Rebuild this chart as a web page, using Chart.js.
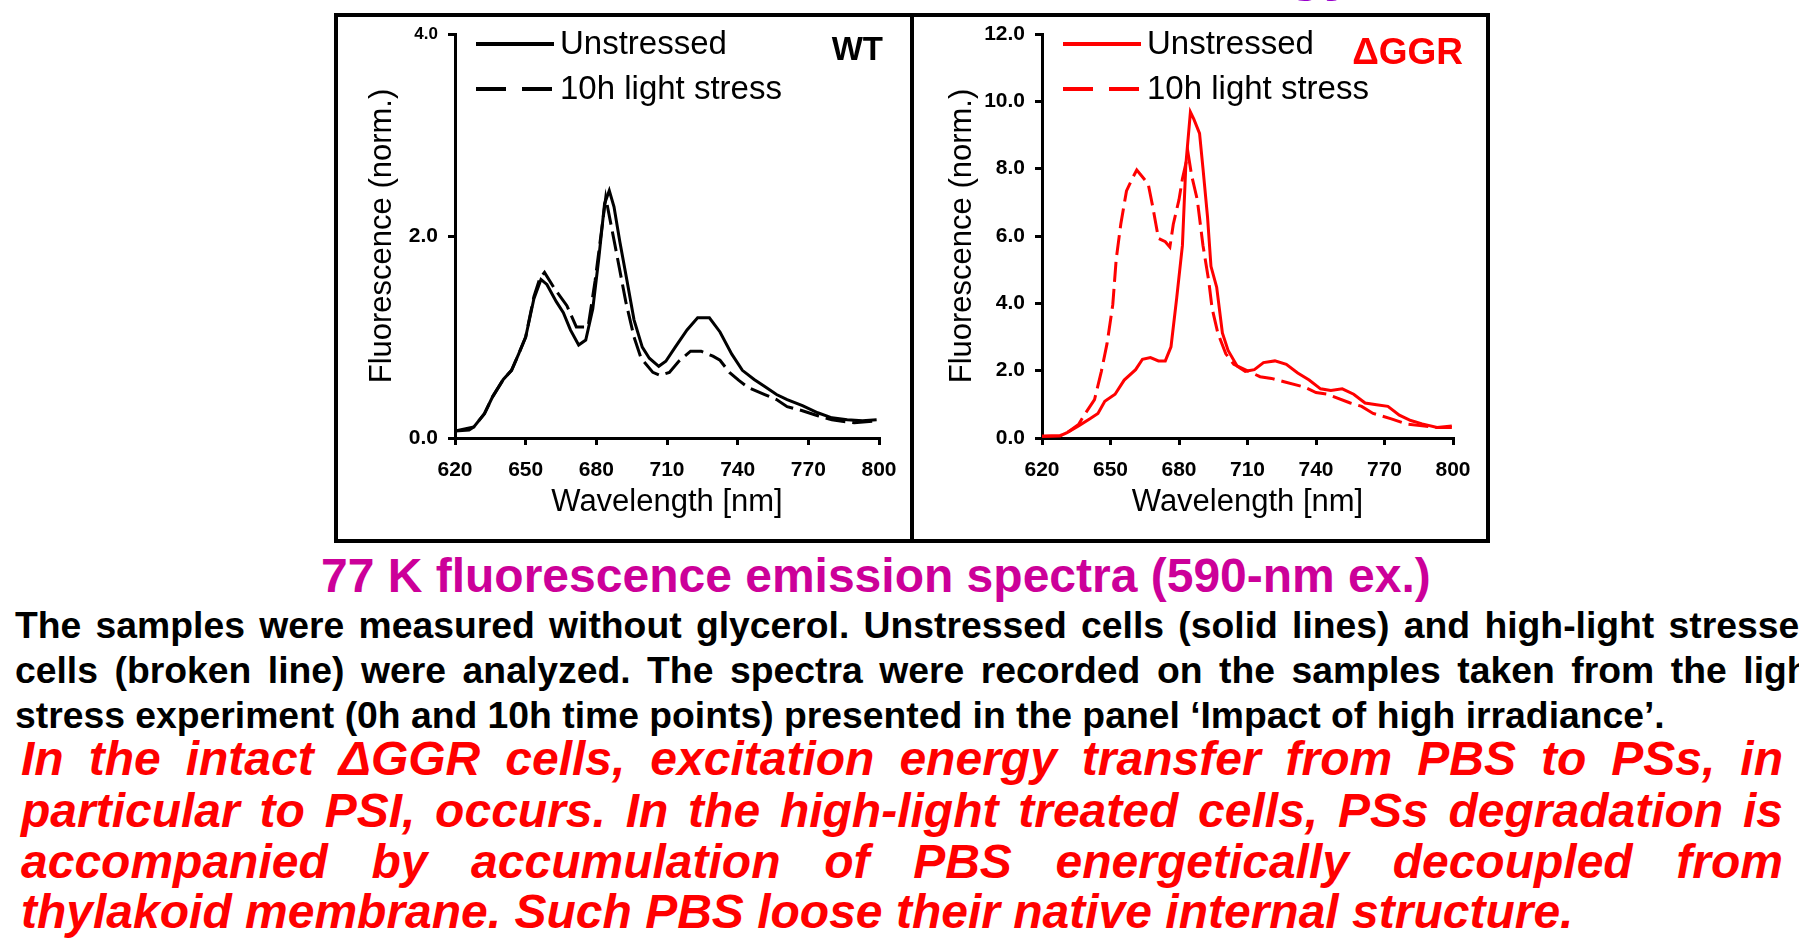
<!DOCTYPE html>
<html>
<head>
<meta charset="utf-8">
<title>77 K fluorescence emission spectra</title>
<script src="https://cdn.jsdelivr.net/npm/chart.js@4.4.1/dist/chart.umd.min.js"></script>
<style>
  html, body { margin: 0; padding: 0; background: #fff; }
  body { width: 1799px; height: 938px; overflow: hidden; position: relative;
         font-family: 'Liberation Sans', Arial, sans-serif; }
  .box { position: absolute; top: 13px; width: 572px; height: 522px; border: 4px solid #000; }
  canvas { position: absolute; top: 17px; }
  .line { position: absolute; white-space: normal; }
  .cap { left: 321px; top: 548px; font-weight: bold; font-size: 48px; line-height: 56px;
         color: #CC0099; white-space: nowrap; }
  .blk { left: 15px; font-weight: bold; font-size: 37.3px; line-height: 45px; color: #000; }
  .red { left: 21px; font-weight: bold; font-style: italic; font-size: 48px; line-height: 51px; color: #FF0000; }
  .just { text-align: justify; text-align-last: justify; }
  .top { left: 1287px; top: -61px; font-weight: bold; font-size: 60px; line-height: 60px; color: #9900CC; }
</style>
</head>
<body>
<div class="line top">gy</div>
<div class="box" style="left:334px"></div>
<div class="box" style="left:910px"></div>
<canvas id="wt" width="572" height="522" style="left:338px"></canvas>
<canvas id="ggr" width="572" height="522" style="left:914px"></canvas>

<div class="line cap">77 K fluorescence emission spectra (590-nm ex.)</div>
<div class="line blk just" style="top:603px;width:1807px">The samples were measured without glycerol. Unstressed cells (solid lines) and high-light stressed</div>
<div class="line blk just" style="top:648px;width:1807px">cells (broken line) were analyzed. The spectra were recorded on the samples taken from the light</div>
<div class="line blk" style="top:693px;white-space:nowrap">stress experiment (0h and 10h time points) presented in the panel ‘Impact of high irradiance’.</div>
<div class="line red just" style="top:733px;width:1762px">In the intact ΔGGR cells, excitation energy transfer from PBS to PSs, in</div>
<div class="line red just" style="top:785px;width:1762px">particular to PSI, occurs. In the high-light treated cells, PSs degradation is</div>
<div class="line red just" style="top:836px;width:1762px">accompanied by accumulation of PBS energetically decoupled from</div>
<div class="line red" style="top:886px;white-space:nowrap">thylakoid membrane. Such PBS loose their native internal structure.</div>

<script>
// tick values
const xTicks = [620, 650, 680, 710, 740, 770, 800];
const wtYTicks = [0, 2, 4];
const ggrYTicks = [0, 2, 4, 6, 8, 10, 12];

// WT, unstressed (solid)
const wtUnNm = [620, 626, 628, 632.5, 636, 640.5, 644, 647, 650, 653.5, 656.5, 659, 663, 666, 669, 672.5,
  675.5, 678.5, 681, 683.5, 685.5, 687.5, 690, 693, 696, 699.5, 702.5, 706.5, 709.5, 713.5, 718.5, 723,
  728, 732.5, 737.5, 742, 747, 751.5, 756.5, 761, 767.5, 774, 780, 786.5, 793, 799];
const wtUnVal = [0.07, 0.08, 0.11, 0.24, 0.41, 0.58, 0.67, 0.83, 1.00, 1.38, 1.57, 1.52, 1.35, 1.24, 1.07, 0.92,
  0.97, 1.28, 1.77, 2.32, 2.45, 2.29, 1.94, 1.56, 1.17, 0.90, 0.79, 0.71, 0.76, 0.90, 1.07, 1.19,
  1.19, 1.05, 0.83, 0.67, 0.58, 0.51, 0.43, 0.38, 0.32, 0.25, 0.20, 0.18, 0.17, 0.18];

// WT, 10h light stress (broken)
const wtLsNm = [620, 628, 632.5, 636, 640.5, 644, 647, 650, 653.5, 656, 658, 662.5, 667.5, 671.5, 676.5,
  679.5, 684, 688, 692.5, 696, 699, 704, 707, 711, 715, 720, 724.5, 729.5, 732.5, 736.5, 740.5, 744.5,
  751.5, 756.5, 761, 767.5, 774, 780, 789.5, 799];
const wtLsVal = [0.07, 0.11, 0.24, 0.41, 0.58, 0.67, 0.83, 1.00, 1.40, 1.58, 1.64, 1.47, 1.31, 1.10, 1.10,
  1.56, 2.38, 1.90, 1.35, 1.00, 0.79, 0.65, 0.62, 0.65, 0.76, 0.86, 0.86, 0.81, 0.77, 0.65, 0.57, 0.50,
  0.43, 0.38, 0.31, 0.27, 0.22, 0.18, 0.15, 0.17];

// ΔGGR, unstressed (solid)
const ggrUnNm = [620, 628, 631, 636, 641, 644.5, 647.5, 652, 656, 661, 664, 667.5, 671, 674, 676.5, 679,
  681.5, 683, 685, 686.5, 689, 690.5, 692.5, 694, 696.5, 699, 701.5, 705.5, 709, 713, 717, 722, 727,
  732, 737, 742, 746.5, 751.5, 756.5, 761.5, 766.5, 771.5, 776.5, 781.5, 786.5, 793, 799.5];
const ggrUnVal = [0.05, 0.07, 0.16, 0.36, 0.57, 0.73, 1.09, 1.30, 1.72, 2.03, 2.34, 2.39, 2.29, 2.29, 2.71, 4.16,
  5.72, 8.12, 9.68, 9.47, 9.05, 8.01, 6.56, 5.10, 4.48, 3.12, 2.60, 2.13, 1.98, 2.03, 2.24, 2.29, 2.19,
  1.93, 1.72, 1.46, 1.41, 1.46, 1.30, 1.04, 0.99, 0.94, 0.68, 0.52, 0.42, 0.31, 0.36];

// ΔGGR, 10h light stress (broken)
const ggrLsNm = [620, 628, 631, 636, 638.5, 643, 646, 648.5, 651, 652.5, 654.5, 657, 659.5, 661.5, 666.5,
  668.5, 671, 674, 676, 677.5, 680, 681.5, 684, 685.5, 688, 690.5, 693, 694.5, 697, 700.5, 704, 710.5,
  715.5, 720.5, 726, 735, 740, 745, 755, 760, 765, 773, 779.5, 786.5, 793, 799.5];
const ggrLsVal = [0.05, 0.07, 0.16, 0.40, 0.68, 1.14, 1.98, 2.81, 3.96, 5.31, 6.35, 7.34, 7.70, 7.96, 7.55,
  6.87, 5.93, 5.83, 5.67, 6.35, 7.08, 7.70, 8.45, 7.81, 7.08, 5.72, 4.68, 3.85, 3.12, 2.50, 2.19, 1.98,
  1.82, 1.77, 1.67, 1.51, 1.35, 1.30, 1.04, 0.94, 0.73, 0.57, 0.42, 0.36, 0.31, 0.31];

Chart.defaults.font.family = "'Liberation Sans', Arial, sans-serif";
Chart.defaults.color = '#000';

function pts(nm, val) {
  return nm.map((x, i) => ({ x: x, y: val[i] }));
}

// legend and panel name drawn inside the plot area
const insideLegend = {
  id: 'insideLegend',
  afterDraw(chart, args, opts) {
    const { ctx, chartArea } = chart;
    ctx.save();
    chart.data.datasets.forEach((ds, i) => {
      const y = chartArea.top + opts.rowY[i];
      const x0 = chartArea.left + 21;
      ctx.strokeStyle = ds.borderColor;
      ctx.lineWidth = 4;
      ctx.setLineDash(ds.borderDash.length ? [30, 16] : []);
      ctx.beginPath();
      ctx.moveTo(x0, y);
      ctx.lineTo(x0 + 78, y);
      ctx.stroke();
      ctx.setLineDash([]);
      ctx.fillStyle = '#000';
      ctx.font = "33px 'Liberation Sans', Arial, sans-serif";
      ctx.textBaseline = 'middle';
      ctx.textAlign = 'left';
      ctx.fillText(ds.label, x0 + 84, y + 1);
    });
    ctx.font = 'bold ' + opts.panelSize + "px 'Liberation Sans', Arial, sans-serif";
    ctx.fillStyle = opts.panelColor;
    ctx.textAlign = 'right';
    ctx.textBaseline = 'middle';
    ctx.fillText(opts.panel, chartArea.right + opts.panelDx, chartArea.top + opts.panelDy);
    ctx.restore();
  }
};

function makeChart(id, color, series, yMax, yTicks, yWidth, yTitlePad, rightPad, panel) {
  const ctx = document.getElementById(id).getContext('2d');
  return new Chart(ctx, {
    type: 'line',
    data: {
      datasets: [{
        label: 'Unstressed',
        data: series[0],
        borderColor: color,
        borderWidth: 3,
        borderDash: [],
        pointRadius: 0,
        tension: 0
      }, {
        label: '10h light stress',
        data: series[1],
        borderColor: color,
        borderWidth: 3,
        borderDash: [20, 7],
        pointRadius: 0,
        tension: 0
      }]
    },
    options: {
      responsive: false,
      animation: false,
      layout: { padding: { left: 0, top: 17, right: rightPad, bottom: 0 } },
      plugins: {
        legend: { display: false },
        tooltip: { enabled: false },
        insideLegend: panel
      },
      scales: {
        x: {
          type: 'linear',
          min: 620,
          max: 800,
          afterBuildTicks: (s) => { s.ticks = xTicks.map(v => ({ value: v })); },
          afterFit: (s) => { s.height = 101; s.paddingLeft = 0; s.paddingRight = 0; },
          border: { display: true, color: '#000', width: 3 },
          grid: { drawOnChartArea: false, drawTicks: true, tickLength: 7, color: '#000', lineWidth: 3 },
          ticks: { padding: 13, font: { size: 21, weight: 'bold' }, color: '#000', maxRotation: 0 },
          title: { display: true, text: 'Wavelength [nm]', color: '#000',
                   font: { size: 31 }, padding: { top: 0, bottom: 18 } }
        },
        y: {
          min: 0,
          max: yMax,
          afterBuildTicks: (s) => { s.ticks = yTicks.map(v => ({ value: v })); },
          afterFit: (s) => { s.width = yWidth; s.paddingTop = 0; s.paddingBottom = 0; },
          border: { display: true, color: '#000', width: 3 },
          grid: { drawOnChartArea: false, drawTicks: true, tickLength: 7, color: '#000', lineWidth: 3 },
          ticks: {
            padding: 10,
            color: '#000',
            callback: (v) => v.toFixed(1),
            font: (c) => ({ size: (c.tick && c.tick.value === 4 && yMax === 4) ? 17 : 21, weight: 'bold' })
          },
          title: { display: true, text: 'Fluorescence (norm.)', color: '#000',
                   font: { size: 31 }, padding: { top: yTitlePad, bottom: 0 } }
        }
      }
    },
    plugins: [insideLegend]
  });
}

makeChart('wt', '#000000', [pts(wtUnNm, wtUnVal), pts(wtLsNm, wtLsVal)], 4, wtYTicks, 117, 26, 31,
  { rowY: [10, 55], panel: 'WT', panelColor: '#000', panelSize: 33, panelDx: 4, panelDy: 17 });
makeChart('ggr', '#FF0000', [pts(ggrUnNm, ggrUnVal), pts(ggrLsNm, ggrLsVal)], 12, ggrYTicks, 128, 30, 33,
  { rowY: [10, 55], panel: 'ΔGGR', panelColor: '#FF0000', panelSize: 37, panelDx: 10, panelDy: 20 });
</script>
</body>
</html>
